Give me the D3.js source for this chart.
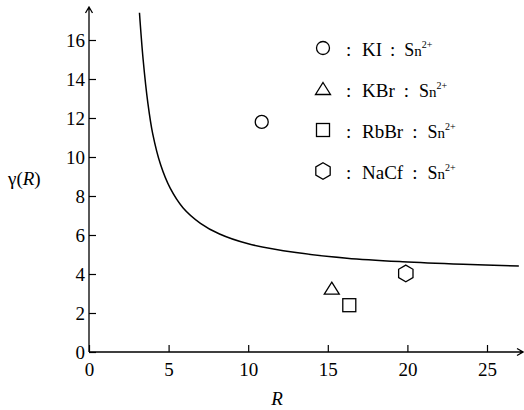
<!DOCTYPE html>
<html>
<head>
<meta charset="utf-8">
<script src="https://cdn.jsdelivr.net/npm/d3@7"></script>
<style>
  body { margin: 0; background: #fff; }
  svg text { font-family: "Liberation Serif", "DejaVu Serif", serif; fill: #000; }
</style>
</head>
<body>
<div id="chart"></div>
<script>
// curve gamma(R)
const curveR = [3.17, 3.4, 3.7, 4.0, 4.5, 5.1, 5.9, 7.0, 8.2, 10.0, 13.0, 16.2, 19.7, 23.5, 27.0];
const curveG = [17.4, 15.0, 12.75, 11.2, 9.6, 8.4, 7.4, 6.6, 6.05, 5.55, 5.1, 4.81, 4.63, 4.5, 4.41];

// measured points
const pointNames = ["KI", "KBr", "RbBr", "NaCf"];
const pointShapes = ["circle", "triangle", "square", "hexagon"];
const pointR = [10.85, 15.25, 16.35, 19.9];
const pointG = [11.8, 3.25, 2.4, 4.03];

const xTicks = [0, 5, 10, 15, 20, 25];
const yTicks = [0, 2, 4, 6, 8, 10, 12, 14, 16];

const width = 524, height = 410;
const serif = '"Liberation Serif", "DejaVu Serif", serif';

const svg = d3.select("#chart")
  .append("svg")
  .attr("width", width)
  .attr("height", height);

const x = d3.scaleLinear().domain([0, 25]).range([89, 487]);
const y = d3.scaleLinear().domain([0, 16]).range([352, 40]);

// axes
svg.append("g")
  .attr("transform", `translate(0, ${y(0)})`)
  .call(d3.axisBottom(x).tickValues(xTicks).tickSize(-7).tickPadding(11))
  .attr("font-family", serif)
  .attr("font-size", 19)
  .call((g) => g.select(".domain").remove())
  .call((g) => g.selectAll("line").attr("stroke-width", 1.2));

svg.append("g")
  .attr("transform", `translate(${x(0)}, 0)`)
  .call(d3.axisLeft(y).tickValues(yTicks).tickSize(-7).tickPadding(4))
  .attr("font-family", serif)
  .attr("font-size", 19)
  .call((g) => g.select(".domain").remove())
  .call((g) => g.selectAll("line").attr("stroke-width", 1.2));

// axis lines with open arrowheads
const axisEndX = 523, axisEndY = 7;
svg.append("path")
  .attr("d", `M${x(0)},${y(0)}H${axisEndX}M${axisEndX - 6},${y(0) - 3.5}L${axisEndX},${y(0)}L${axisEndX - 6},${y(0) + 3.5}`)
  .attr("fill", "none").attr("stroke", "#000").attr("stroke-width", 1.3);
svg.append("path")
  .attr("d", `M${x(0)},${y(0)}V${axisEndY}M${x(0) - 3.5},${axisEndY + 6}L${x(0)},${axisEndY}L${x(0) + 3.5},${axisEndY + 6}`)
  .attr("fill", "none").attr("stroke", "#000").attr("stroke-width", 1.3);

// axis titles
svg.append("text")
  .attr("x", 277).attr("y", 405)
  .attr("text-anchor", "middle")
  .attr("font-size", 19)
  .attr("font-style", "italic")
  .text("R");

const yTitle = svg.append("text")
  .attr("x", 8).attr("y", 185)
  .attr("font-size", 19);
yTitle.append("tspan").text("γ(");
yTitle.append("tspan").attr("font-style", "italic").text("R");
yTitle.append("tspan").text(")");

// curve
const curveData = curveR.map((r, i) => [r, curveG[i]]);
svg.append("path")
  .datum(curveData)
  .attr("fill", "none")
  .attr("stroke", "#000")
  .attr("stroke-width", 1.5)
  .attr("d", d3.line().x((d) => x(d[0])).y((d) => y(d[1])).curve(d3.curveCatmullRom.alpha(0.5)));

// marker shapes
function drawShape(g, shape) {
  if (shape === "circle") {
    g.append("circle").attr("r", 6.5);
  } else if (shape === "triangle") {
    g.append("path").attr("d", "M0,-6.5L7.5,5.5L-7.5,5.5Z");
  } else if (shape === "square") {
    g.append("rect").attr("x", -6.5).attr("y", -6.5).attr("width", 13).attr("height", 13);
  } else {
    const pts = d3.range(6).map((k) => {
      const a = Math.PI / 3 * k - Math.PI / 2;
      return [8.3 * Math.cos(a), 8.3 * Math.sin(a)];
    });
    g.append("path").attr("d", "M" + pts.join("L") + "Z");
  }
  g.selectAll("*").attr("fill", "none").attr("stroke", "#000").attr("stroke-width", 1.3);
}

pointR.forEach((r, i) => {
  const g = svg.append("g").attr("transform", `translate(${x(r)}, ${y(pointG[i])})`);
  drawShape(g, pointShapes[i]);
});

// legend
pointNames.forEach((name, i) => {
  const cy = 48 + i * 41;
  const g = svg.append("g").attr("transform", `translate(323, ${cy})`);
  drawShape(g, pointShapes[i]);

  const t = svg.append("text")
    .attr("y", cy + 8)
    .attr("font-size", 19);
  t.append("tspan").attr("x", 346).text(":");
  t.append("tspan").attr("x", 362).text(name);
  t.append("tspan").attr("dx", i === 0 ? 8 : 9).text(":");
  t.append("tspan").attr("dx", i === 0 ? 9 : 10).attr("font-size", 18).text("S");
  t.append("tspan").attr("font-size", 15).text("n");
  t.append("tspan").attr("font-size", 10).attr("dy", -8).text("2+");
});
</script>
</body>
</html>
